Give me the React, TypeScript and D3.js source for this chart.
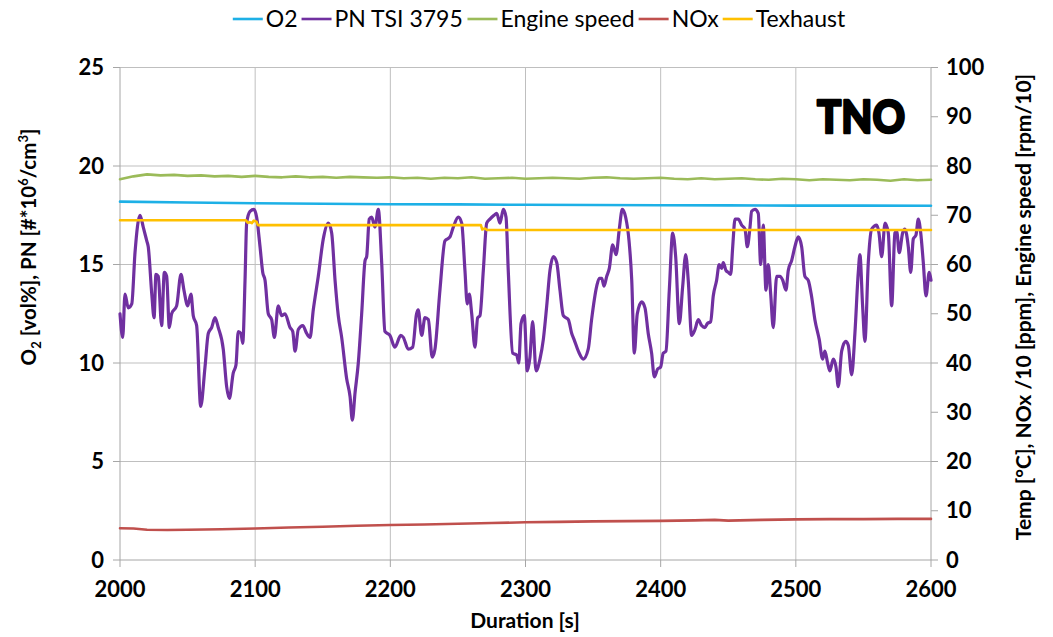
import React from "react";
import * as d3 from "d3";

// ---------- data ----------
const X_TICKS = [2000, 2100, 2200, 2300, 2400, 2500, 2600];
const LEFT_TICKS = [0, 5, 10, 15, 20, 25];
const RIGHT_TICKS = [0, 10, 20, 30, 40, 50, 60, 70, 80, 90, 100];

const LEGEND = ["O2", "PN TSI 3795", "Engine speed", "NOx", "Texhaust"];
const COLORS = ["#1DB0E6", "#7030A0", "#9BBB59", "#C0504D", "#FFC000"];

// O2 [vol%] (left axis)
const O2: [number, number][] = [
  [2000, 18.19], [2050, 18.15], [2100, 18.11], [2150, 18.08], [2200, 18.06],
  [2250, 18.05], [2300, 18.03], [2350, 18.02], [2400, 18.01], [2450, 18.0],
  [2500, 17.99], [2550, 17.99], [2600, 17.98],
];

// PN TSI 3795 [#*10^6/cm3] (left axis)
const PN: [number, number][] = [
  [2000, 12.5], [2002, 11.3], [2003.7, 13.5], [2006.1, 12.8], [2008.7, 13.0], [2011.1, 15.6],
  [2014.8, 17.5], [2017.2, 16.9], [2019.8, 16.2], [2020.9, 15.9], [2023.5, 13.5], [2025.2, 12.3],
  [2026.6, 14.5], [2028.3, 14.4], [2030.8, 11.9], [2032.8, 14.6], [2034.5, 14.4], [2036.5, 11.8],
  [2038.2, 12.5], [2041.9, 12.9], [2045.1, 14.5], [2047.3, 13.7], [2050.1, 12.9], [2052.5, 13.5],
  [2054.2, 12.4], [2056.7, 11.9], [2059.7, 7.8], [2062.9, 9.8], [2065.3, 11.5], [2067.8, 11.8],
  [2070.3, 12.3], [2072.7, 11.8], [2076.4, 10.7], [2078.9, 8.8], [2080.9, 8.2], [2083.8, 9.5],
  [2085.8, 9.9], [2087.5, 11.6], [2089.5, 11.5], [2090.8, 11.0], [2092.5, 14.2], [2093.7, 17.1],
  [2096.2, 17.7], [2099.1, 17.8], [2101.1, 17.4], [2103.6, 15.9], [2105.6, 14.6], [2107.3, 14.2],
  [2109.7, 12.5], [2112.2, 12.2], [2114.2, 11.3], [2117.1, 12.9], [2119.6, 12.4], [2122.1, 12.5],
  [2125.8, 11.8], [2127.8, 11.6], [2129.5, 10.6], [2131.9, 11.7], [2135.2, 11.9], [2138.1, 11.5],
  [2140.6, 11.3], [2143, 12.7], [2146.7, 14.4], [2150.4, 16.3], [2154.1, 17.1], [2156.6, 16.6],
  [2159.1, 14.2], [2161.5, 12.4], [2164, 11.3], [2167.7, 9.2], [2170.2, 8.3], [2171.9, 7.1],
  [2173.9, 8.5], [2176.3, 10.0], [2178.8, 12.5], [2181.3, 15.2], [2182.5, 15.4], [2184.4, 17.3],
  [2186.2, 17.4], [2188.6, 16.9], [2191.1, 17.8], [2193.6, 15.1], [2196, 11.6], [2199.7, 11.4],
  [2203.4, 10.8], [2207.7, 11.4], [2209.6, 11.3], [2213.3, 10.7], [2216.5, 10.8], [2219.4, 12.5],
  [2220.6, 12.7], [2223.2, 11.4], [2225.6, 12.3], [2228.1, 12.2], [2231, 10.3], [2233, 10.7],
  [2236.7, 13.7], [2240.4, 16.2], [2244.1, 16.4], [2246.6, 16.9], [2250.3, 17.4], [2252.8, 17.1],
  [2255.2, 14.7], [2256.9, 13.0], [2258.4, 13.5], [2260.2, 12.5], [2262.6, 10.8], [2264.6, 12.3],
  [2266.3, 12.4], [2268.8, 14.7], [2271.3, 17.1], [2273.7, 17.3], [2276.7, 17.5], [2278.7, 17.6],
  [2281.1, 17.1], [2283.6, 17.8], [2285.6, 17.4], [2287.3, 14.6], [2290.5, 10.5], [2293.5, 10.4],
  [2295, 10.0], [2296.7, 12.0], [2299.1, 12.4], [2301.3, 9.6], [2303.3, 10.3], [2305.3, 12.1],
  [2307.8, 9.6], [2310.7, 10.2], [2313.2, 11.2], [2315.7, 12.9], [2318.1, 14.7], [2320.6, 15.4],
  [2323.1, 15.1], [2325.5, 13.7], [2328, 12.4], [2331.7, 12.2], [2334.2, 11.5], [2335.9, 11.2],
  [2339.1, 10.6], [2342.8, 10.2], [2346.4, 10.7], [2348.9, 12.2], [2352.7, 13.9], [2354.6, 14.3],
  [2356.4, 14.3], [2358.1, 13.9], [2360.1, 14.4], [2362, 14.8], [2364.5, 16.0], [2367, 15.5],
  [2369.4, 16.8], [2371.6, 17.8], [2374.1, 17.4], [2376.6, 16.2], [2378.6, 14.2], [2380.5, 10.5],
  [2382.7, 12.5], [2386, 13.1], [2388.4, 12.8], [2390.8, 11.5], [2393.3, 10.5], [2395.3, 9.3],
  [2397.8, 9.7], [2400, 9.8], [2401.9, 10.5], [2403.9, 10.6], [2406.4, 13.7], [2408.9, 16.6],
  [2411.1, 15.4], [2413.8, 12.0], [2416.3, 13.9], [2418.5, 15.5], [2420.4, 14.2], [2422.9, 11.4],
  [2425.4, 11.7], [2427.8, 12.2], [2430.3, 11.9], [2432.8, 11.8], [2434.5, 12.0], [2437, 12.1],
  [2438.9, 13.4], [2441.4, 14.2], [2443.3, 15.0], [2445.1, 14.8], [2446.3, 15.1], [2448.3, 14.7],
  [2450, 14.6], [2451.8, 14.5], [2453.3, 15.9], [2455, 17.3], [2457.4, 17.3], [2459.9, 17.0],
  [2462.4, 16.8], [2464.1, 15.9], [2466.1, 16.9], [2467.3, 17.7], [2469.8, 17.8], [2472.2, 17.6],
  [2474, 15.0], [2475.9, 17.0], [2477.9, 13.7], [2479.6, 15.0], [2481.4, 13.5], [2483.3, 11.8],
  [2485.8, 14.4], [2488.3, 14.4], [2490.3, 14.2], [2492.7, 13.7], [2494.4, 14.7], [2496.9, 15.2],
  [2499.3, 15.9], [2501.8, 16.4], [2504.3, 15.9], [2506.7, 14.4], [2509.2, 14.2], [2511.6, 13.4],
  [2514.1, 12.2], [2517.3, 11.2], [2519.8, 10.2], [2521.5, 10.6], [2523.5, 10.0], [2525.2, 9.6],
  [2527.7, 10.2], [2529.7, 9.8], [2531.4, 8.8], [2533.9, 10.6], [2536.9, 11.1], [2538.8, 10.9],
  [2541.3, 9.4], [2543.7, 11.5], [2546.2, 14.6], [2547.4, 15.5], [2549.4, 12.9], [2551.1, 11.1],
  [2553.6, 15.1], [2556.1, 16.8], [2559.8, 17.0], [2561.5, 16.6], [2563.5, 15.4], [2566, 17.1],
  [2568.4, 16.6], [2570.9, 12.9], [2573.3, 16.6], [2574.6, 16.7], [2576.5, 15.6], [2579, 16.6],
  [2580.7, 16.8], [2583.2, 15.9], [2585, 14.6], [2586.9, 16.3], [2588.9, 16.5], [2590.6, 17.3],
  [2592.4, 16.6], [2594.3, 15.1], [2596.3, 13.4], [2598.7, 14.6], [2600, 14.2],
];

// Engine speed [rpm/10] (right axis), every 10 s from 2000
const SPEED_T0 = 2000;
const SPEED_STEP = 10;
const SPEED = [
  77.3, 77.9, 78.3, 78.1, 78.2, 78.0, 78.1, 77.9, 78.0, 77.8,
  78.0, 77.8, 77.7, 77.9, 77.7, 77.8, 77.6, 77.8, 77.7, 77.6,
  77.7, 77.5, 77.6, 77.4, 77.6, 77.5, 77.7, 77.4, 77.5, 77.6,
  77.4, 77.5, 77.6, 77.5, 77.4, 77.6, 77.7, 77.5, 77.4, 77.5,
  77.6, 77.4, 77.3, 77.5, 77.3, 77.4, 77.5, 77.3, 77.2, 77.4,
  77.3, 77.1, 77.3, 77.2, 77.1, 77.3, 77.2, 77.0, 77.3, 77.1, 77.2,
];

// NOx /10 [ppm] (right axis)
const NOX: [number, number][] = [
  [2000, 6.45], [2010, 6.4], [2020, 6.15], [2035, 6.1], [2050, 6.15], [2075, 6.25],
  [2100, 6.4], [2125, 6.6], [2150, 6.75], [2175, 6.95], [2200, 7.1], [2225, 7.2],
  [2250, 7.35], [2275, 7.5], [2300, 7.65], [2325, 7.75], [2350, 7.85], [2375, 7.9],
  [2400, 7.95], [2425, 8.05], [2440, 8.15], [2450, 8.0], [2475, 8.15], [2500, 8.25],
  [2525, 8.3], [2550, 8.3], [2575, 8.35], [2600, 8.35],
];

// Texhaust [°C] (right axis)
const TEXH: [number, number][] = [
  [2000, 69.0], [2093, 69.0], [2094.5, 68.5], [2096, 68.6], [2097.5, 68.4], [2099, 68.9],
  [2101, 68.7], [2102, 68.0], [2267, 68.0], [2268, 67.1], [2270, 67.3], [2271.5, 67.0],
  [2600, 67.0],
];

// ---------- layout ----------
const W = 1053;
const H = 637;
const M = { left: 120, right: 931, top: 67.5, bottom: 560 };
const FONT = "Lato, 'Open Sans', sans-serif";

function measure(text: string, font: string): number {
  if (typeof document === "undefined") return text.length * 10;
  const c = document.createElement("canvas");
  const ctx = c.getContext("2d");
  if (!ctx) return text.length * 10;
  ctx.font = font;
  return ctx.measureText(text).width;
}

export default function App() {
  const x = d3.scaleLinear().domain([2000, 2600]).range([M.left, M.right]);
  const yL = d3.scaleLinear().domain([0, 25]).range([M.bottom, M.top]);
  const yR = d3.scaleLinear().domain([0, 100]).range([M.bottom, M.top]);

  const lineL = d3.line<[number, number]>().x((d) => x(d[0])).y((d) => yL(d[1]));
  const lineR = d3.line<[number, number]>().x((d) => x(d[0])).y((d) => yR(d[1]));
  const lineLsmooth = d3
    .line<[number, number]>()
    .x((d) => x(d[0]))
    .y((d) => yL(d[1]))
    .curve(d3.curveMonotoneX);

  const speedPts: [number, number][] = SPEED.map((v, i) => [SPEED_T0 + i * SPEED_STEP, v]);

  // legend layout
  const legFontSize = 23;
  const legFont = `${legFontSize}px Lato, 'Open Sans', sans-serif`;
  const segW = 30;
  const gap = 3;
  const widths = LEGEND.map((t) => measure(t, legFont));
  const itemW = widths.map((w) => segW + gap + w + 4);
  const total = d3.sum(itemW);
  const legCx = 541;
  let cursor = legCx - total / 2;
  const legItems = LEGEND.map((t, i) => {
    const start = cursor;
    cursor += itemW[i];
    return { t, start, color: COLORS[i] };
  });
  const legY = 19;

  const tickFont = { fontFamily: FONT, fontWeight: 700, fontSize: 22, fill: "#000" } as const;

  return (
    <svg
      width={W}
      height={H}
      style={{ position: "absolute", left: 0, top: 0, background: "#fff" }}
      xmlns="http://www.w3.org/2000/svg"
    >
      <rect x={0} y={0} width={W} height={H} fill="#fff" />

      {/* gridlines */}
      {LEFT_TICKS.filter((t) => t > 0).map((t) => (
        <line key={"gh" + t} x1={M.left} x2={M.right} y1={yL(t)} y2={yL(t)} stroke="#BFBFBF" strokeWidth={1} />
      ))}
      {X_TICKS.filter((t) => t > 2000 && t < 2600).map((t) => (
        <line key={"gv" + t} x1={x(t)} x2={x(t)} y1={M.top} y2={M.bottom} stroke="#BFBFBF" strokeWidth={1} />
      ))}

      {/* axes */}
      <line x1={M.left} x2={M.left} y1={M.top} y2={M.bottom} stroke="#A6A6A6" />
      <line x1={M.right} x2={M.right} y1={M.top} y2={M.bottom} stroke="#A6A6A6" />
      <line x1={M.left} x2={M.right} y1={M.bottom} y2={M.bottom} stroke="#A6A6A6" />
      {LEFT_TICKS.map((t) => (
        <line key={"lt" + t} x1={M.left - 7} x2={M.left} y1={yL(t)} y2={yL(t)} stroke="#A6A6A6" />
      ))}
      {RIGHT_TICKS.map((t) => (
        <line key={"rt" + t} x1={M.right} x2={M.right + 7} y1={yR(t)} y2={yR(t)} stroke="#A6A6A6" />
      ))}
      {X_TICKS.map((t) => (
        <line key={"xt" + t} x1={x(t)} x2={x(t)} y1={M.bottom} y2={M.bottom + 7} stroke="#A6A6A6" />
      ))}

      {/* tick labels */}
      {LEFT_TICKS.map((t) => (
        <text key={"ll" + t} x={104} y={yL(t)} dy="0.35em" textAnchor="end" {...tickFont}>
          {t}
        </text>
      ))}
      {RIGHT_TICKS.map((t) => (
        <text key={"rl" + t} x={946} y={yR(t)} dy="0.35em" textAnchor="start" {...tickFont}>
          {t}
        </text>
      ))}
      {X_TICKS.map((t) => (
        <text key={"xl" + t} x={x(t)} y={597} textAnchor="middle" {...tickFont}>
          {t}
        </text>
      ))}

      {/* axis titles */}
      <text x={525} y={628} textAnchor="middle" fontFamily={FONT} fontWeight={700} fontSize={21}>
        Duration [s]
      </text>
      <text
        transform="translate(36,247) rotate(-90)"
        textAnchor="middle"
        fontFamily={FONT}
        fontWeight={700}
        fontSize={20.5}
      >
        O<tspan fontSize={13} dy={5}>2</tspan>
        <tspan dy={-5}> [vol%], PN [#*10</tspan>
        <tspan fontSize={13} dy={-8}>6</tspan>
        <tspan dy={8}>/cm</tspan>
        <tspan fontSize={13} dy={-8}>3</tspan>
        <tspan dy={8}>]</tspan>
      </text>
      <text
        transform="translate(1031,307) rotate(-90)"
        textAnchor="middle"
        fontFamily={FONT}
        fontWeight={700}
        fontSize={21}
      >
        Temp [°C], NOx /10 [ppm], Engine speed [rpm/10]
      </text>

      {/* series */}
      <g fill="none" strokeLinejoin="round" strokeLinecap="round">
        <path d={lineL(O2) || ""} stroke={COLORS[0]} strokeWidth={2.6} />
        <path d={lineLsmooth(PN) || ""} stroke={COLORS[1]} strokeWidth={3.2} />
        <path d={lineR(speedPts) || ""} stroke={COLORS[2]} strokeWidth={2.6} />
        <path d={lineR(NOX) || ""} stroke={COLORS[3]} strokeWidth={2.6} />
        <path d={lineR(TEXH) || ""} stroke={COLORS[4]} strokeWidth={2.6} />
      </g>

      {/* TNO logo */}
      <text
        x={861}
        y={133}
        textAnchor="middle"
        fontFamily="Lato, 'DejaVu Sans', sans-serif"
        fontWeight={900}
        fontSize={46}
        textLength={88}
        lengthAdjust="spacingAndGlyphs"
        stroke="#000"
        strokeWidth={2.5}
        strokeLinejoin="round"
        fill="#000"
      >
        TNO
      </text>

      {/* legend */}
      {legItems.map((it) => (
        <g key={it.t}>
          <line x1={it.start} x2={it.start + segW} y1={legY} y2={legY} stroke={it.color} strokeWidth={2.6} />
          <text
            x={it.start + segW + gap}
            y={legY}
            dy="0.35em"
            fontFamily={FONT}
            fontSize={legFontSize}
            fill="#000"
          >
            {it.t}
          </text>
        </g>
      ))}
    </svg>
  );
}
